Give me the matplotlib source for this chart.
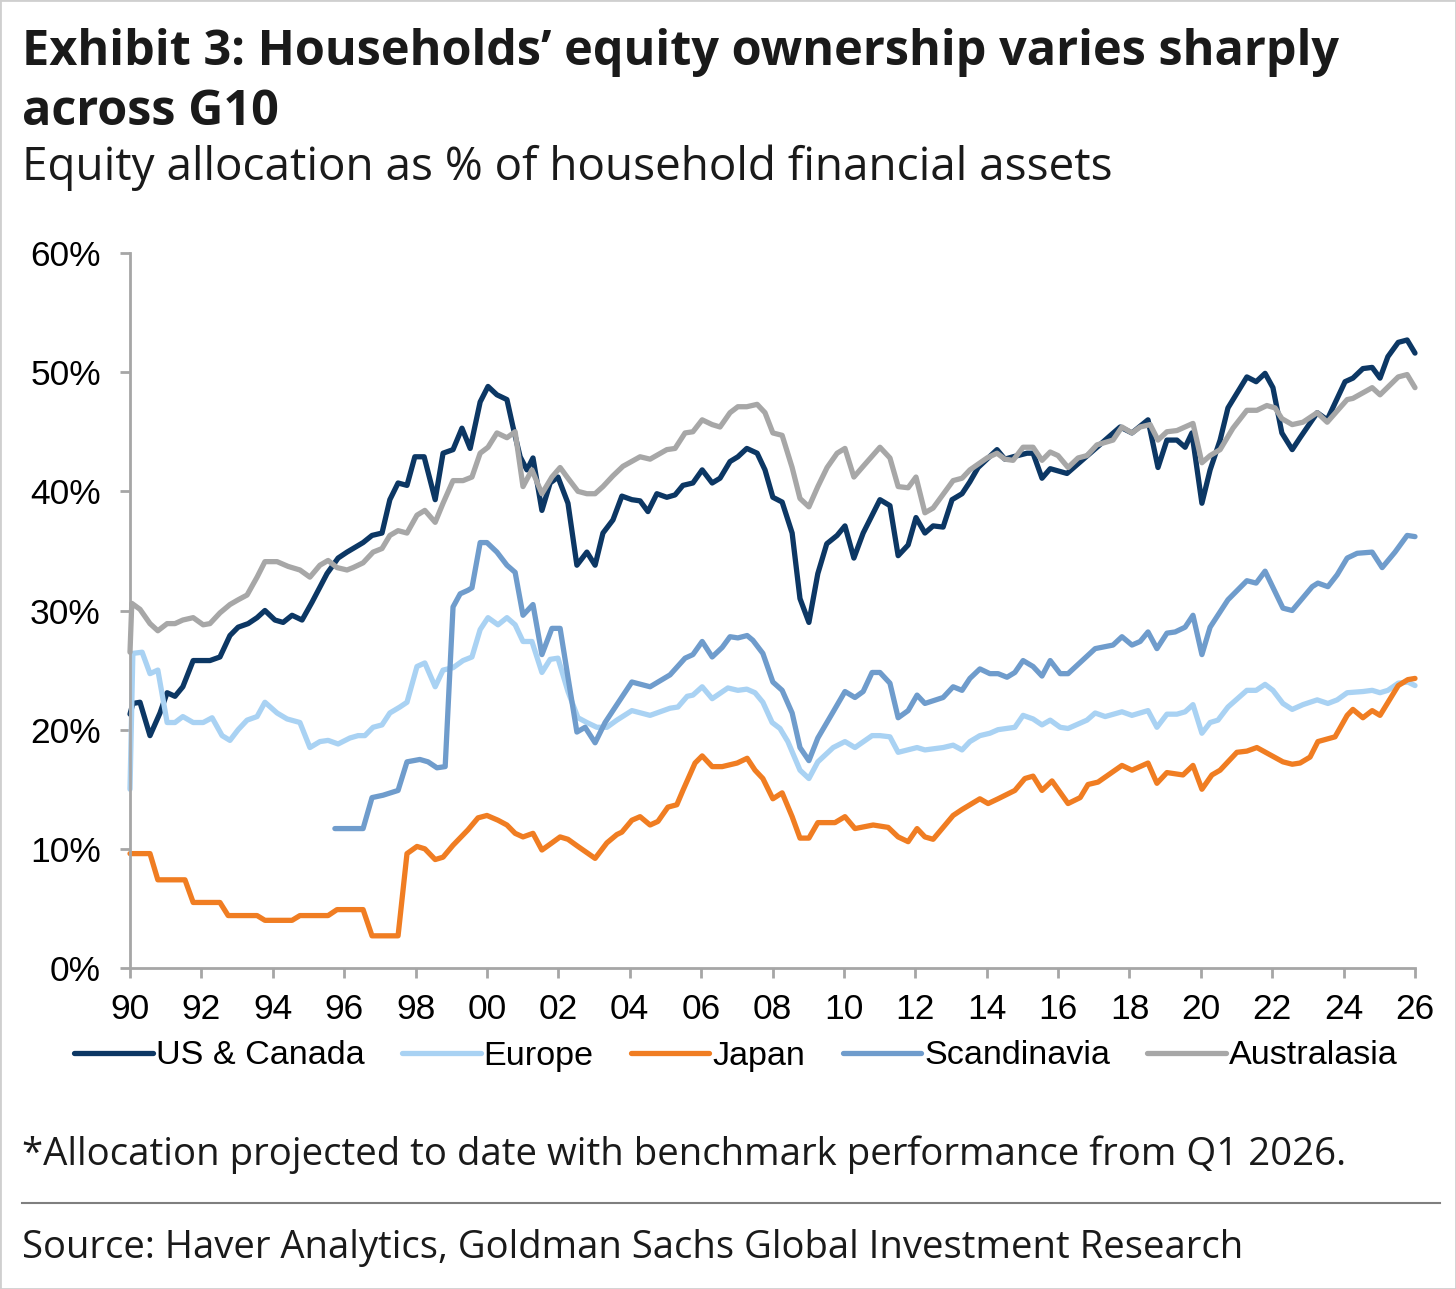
import matplotlib
matplotlib.use("Agg")
import matplotlib.pyplot as plt
from matplotlib.lines import Line2D
from matplotlib.patches import Rectangle

# data (decimal year, % of household financial assets)
us_years = [1990.00, 1990.08, 1990.28, 1990.56, 1990.84, 1991.04, 1991.26, 1991.48, 1991.77, 1992.24,
            1992.52, 1992.80, 1993.03, 1993.31, 1993.56, 1993.78, 1994.06, 1994.29, 1994.54, 1994.82,
            1995.10, 1995.52, 1995.83, 1996.08, 1996.36, 1996.53, 1996.78, 1997.06, 1997.28, 1997.51,
            1997.76, 1997.98, 1998.24, 1998.55, 1998.77, 1999.05, 1999.30, 1999.53, 1999.81, 2000.03,
            2000.28, 2000.56, 2000.73, 2000.93, 2001.12, 2001.29, 2001.54, 2001.77, 2001.99, 2002.27,
            2002.52, 2002.80, 2003.03, 2003.25, 2003.53, 2003.78, 2004.06, 2004.29, 2004.51, 2004.76,
            2005.04, 2005.27, 2005.49, 2005.77, 2006.03, 2006.31, 2006.53, 2006.81, 2007.03, 2007.28,
            2007.57, 2007.79, 2008.01, 2008.27, 2008.55, 2008.77, 2009.02, 2009.27, 2009.52, 2009.81,
            2010.03, 2010.28, 2010.54, 2011.01, 2011.29, 2011.52, 2011.80, 2012.02, 2012.27, 2012.50,
            2012.78, 2013.03, 2013.31, 2013.53, 2013.76, 2014.29, 2014.51, 2014.74, 2015.13, 2015.30,
            2015.55, 2015.78, 2016.25, 2016.90, 2017.74, 2018.07, 2018.52, 2018.80, 2019.05, 2019.33,
            2019.56, 2019.75, 2020.03, 2020.26, 2020.54, 2020.76, 2021.29, 2021.55, 2021.80, 2022.02,
            2022.27, 2022.56, 2022.78, 2023.26, 2023.54, 2024.04, 2024.26, 2024.54, 2024.80, 2025.02,
            2025.24, 2025.53, 2025.78, 2026.00]
us_vals = [21.3, 22.2, 22.3, 19.5, 21.4, 23.1, 22.8, 23.6, 25.8, 25.8,
           26.1, 27.9, 28.6, 28.9, 29.4, 30.0, 29.2, 29.0, 29.6, 29.2,
           30.7, 33.1, 34.4, 34.9, 35.4, 35.7, 36.3, 36.5, 39.3, 40.7,
           40.5, 42.9, 42.9, 39.3, 43.2, 43.5, 45.3, 43.6, 47.5, 48.8,
           48.1, 47.7, 45.4, 42.9, 41.8, 42.8, 38.4, 40.7, 41.2, 39.0,
           33.8, 34.9, 33.8, 36.5, 37.6, 39.6, 39.3, 39.2, 38.3, 39.8,
           39.5, 39.7, 40.5, 40.7, 41.8, 40.7, 41.1, 42.5, 42.9, 43.6,
           43.2, 41.8, 39.5, 39.1, 36.5, 31.0, 29.0, 33.1, 35.6, 36.3,
           37.1, 34.4, 36.5, 39.3, 38.8, 34.6, 35.5, 37.8, 36.5, 37.1,
           37.0, 39.3, 39.8, 40.8, 42.0, 43.5, 42.7, 42.9, 43.2, 43.2,
           41.1, 41.9, 41.5, 43.2, 45.4, 44.9, 46.0, 42.0, 44.3, 44.3,
           43.7, 44.9, 39.0, 41.8, 44.3, 47.0, 49.6, 49.2, 49.9, 48.7,
           44.9, 43.5, 44.5, 46.6, 46.0, 49.2, 49.5, 50.3, 50.4, 49.5,
           51.3, 52.5, 52.7, 51.6]

europe_years = [1990.00, 1990.08, 1990.34, 1990.56, 1990.78, 1991.04, 1991.26, 1991.48, 1991.77, 1992.05,
                1992.30, 1992.58, 1992.80, 1993.03, 1993.28, 1993.56, 1993.78, 1994.12, 1994.40, 1994.76,
                1995.04, 1995.32, 1995.55, 1995.83, 1996.16, 1996.39, 1996.58, 1996.81, 1997.06, 1997.28,
                1997.56, 1997.76, 1998.04, 1998.26, 1998.55, 1998.77, 1999.05, 1999.33, 1999.58, 1999.81,
                2000.03, 2000.31, 2000.56, 2000.79, 2001.01, 2001.26, 2001.54, 2001.77, 2001.99, 2002.27,
                2002.55, 2002.80, 2003.08, 2003.36, 2003.64, 2004.06, 2004.57, 2005.13, 2005.35, 2005.61,
                2005.77, 2006.03, 2006.31, 2006.75, 2007.03, 2007.28, 2007.51, 2007.73, 2007.99, 2008.21,
                2008.43, 2008.77, 2009.02, 2009.27, 2009.70, 2010.03, 2010.31, 2010.79, 2011.01, 2011.29,
                2011.52, 2012.05, 2012.27, 2012.78, 2013.06, 2013.31, 2013.53, 2013.81, 2014.09, 2014.32,
                2014.79, 2015.02, 2015.30, 2015.55, 2015.78, 2016.06, 2016.28, 2016.81, 2017.04, 2017.32,
                2017.79, 2018.07, 2018.52, 2018.77, 2019.05, 2019.33, 2019.56, 2019.78, 2020.03, 2020.26,
                2020.48, 2020.76, 2021.29, 2021.55, 2021.80, 2022.02, 2022.30, 2022.56, 2022.86, 2023.26,
                2023.56, 2023.82, 2024.10, 2024.54, 2024.80, 2025.02, 2025.24, 2025.53, 2025.80, 2026.00]
europe_vals = [15.0, 26.4, 26.5, 24.7, 25.0, 20.6, 20.6, 21.1, 20.6, 20.6,
               21.0, 19.5, 19.1, 20.0, 20.8, 21.1, 22.3, 21.4, 20.9, 20.6,
               18.5, 19.0, 19.1, 18.8, 19.3, 19.5, 19.5, 20.2, 20.4, 21.4,
               21.9, 22.3, 25.3, 25.6, 23.6, 25.0, 25.2, 25.8, 26.1, 28.4,
               29.4, 28.8, 29.4, 28.8, 27.4, 27.4, 24.8, 25.9, 26.0, 23.2,
               21.0, 20.6, 20.2, 20.2, 20.8, 21.6, 21.2, 21.8, 21.9, 22.8,
               22.9, 23.6, 22.6, 23.5, 23.3, 23.4, 23.1, 22.3, 20.6, 20.1,
               19.0, 16.6, 15.9, 17.3, 18.5, 19.0, 18.5, 19.5, 19.5, 19.4,
               18.1, 18.5, 18.3, 18.5, 18.7, 18.3, 19.0, 19.5, 19.7, 20.0,
               20.2, 21.2, 20.9, 20.4, 20.8, 20.2, 20.1, 20.8, 21.4, 21.1,
               21.5, 21.2, 21.6, 20.2, 21.3, 21.3, 21.5, 22.1, 19.7, 20.6,
               20.8, 21.9, 23.3, 23.3, 23.8, 23.3, 22.2, 21.7, 22.1, 22.5,
               22.2, 22.5, 23.1, 23.2, 23.3, 23.1, 23.3, 23.9, 24.0, 23.7]

japan_years = [1990.00, 1990.56, 1990.78, 1991.54, 1991.77, 1992.52, 1992.75, 1993.56, 1993.78, 1994.54,
               1994.76, 1995.55, 1995.80, 1996.53, 1996.78, 1997.51, 1997.76, 1998.04, 1998.26, 1998.55,
               1998.77, 1999.05, 1999.47, 1999.75, 2000.00, 2000.31, 2000.56, 2000.79, 2001.01, 2001.29,
               2001.54, 2001.82, 2002.05, 2002.27, 2002.55, 2003.03, 2003.36, 2003.64, 2003.78, 2004.06,
               2004.29, 2004.57, 2004.79, 2005.07, 2005.32, 2005.49, 2005.83, 2006.03, 2006.31, 2006.59,
               2007.01, 2007.29, 2007.51, 2007.73, 2008.01, 2008.27, 2008.55, 2008.77, 2009.02, 2009.27,
               2009.75, 2010.03, 2010.31, 2010.82, 2011.24, 2011.52, 2011.80, 2012.05, 2012.27, 2012.50,
               2013.06, 2013.31, 2013.81, 2014.04, 2014.32, 2014.79, 2015.07, 2015.30, 2015.55, 2015.83,
               2016.28, 2016.62, 2016.84, 2017.12, 2017.79, 2018.07, 2018.52, 2018.77, 2019.05, 2019.50,
               2019.78, 2020.03, 2020.31, 2020.54, 2021.01, 2021.29, 2021.57, 2022.30, 2022.56, 2022.78,
               2023.06, 2023.28, 2023.76, 2024.10, 2024.26, 2024.54, 2024.80, 2025.02, 2025.53, 2025.80,
               2026.00]
japan_vals = [9.6, 9.6, 7.4, 7.4, 5.5, 5.5, 4.4, 4.4, 4.0, 4.0,
              4.4, 4.4, 4.9, 4.9, 2.7, 2.7, 9.6, 10.2, 10.0, 9.1,
              9.3, 10.3, 11.6, 12.6, 12.8, 12.4, 12.0, 11.3, 11.0, 11.3,
              9.9, 10.5, 11.0, 10.8, 10.2, 9.2, 10.5, 11.2, 11.4, 12.4,
              12.7, 12.0, 12.3, 13.5, 13.7, 14.9, 17.2, 17.8, 16.9, 16.9,
              17.2, 17.6, 16.6, 15.9, 14.2, 14.7, 12.7, 10.9, 10.9, 12.2,
              12.2, 12.7, 11.7, 12.0, 11.8, 11.0, 10.6, 11.7, 11.0, 10.8,
              12.8, 13.3, 14.2, 13.8, 14.2, 14.9, 15.9, 16.1, 14.9, 15.7,
              13.8, 14.3, 15.4, 15.6, 17.0, 16.6, 17.2, 15.5, 16.4, 16.2,
              17.0, 15.0, 16.2, 16.6, 18.1, 18.2, 18.5, 17.3, 17.1, 17.2,
              17.7, 19.0, 19.4, 21.2, 21.7, 21.0, 21.6, 21.2, 23.7, 24.2,
              24.3]

scandi_years = [1995.74, 1996.53, 1996.78, 1997.09, 1997.51, 1997.76, 1998.12, 1998.35, 1998.60, 1998.83,
                1999.05, 1999.25, 1999.47, 1999.58, 1999.81, 2000.00, 2000.28, 2000.56, 2000.79, 2001.01,
                2001.29, 2001.54, 2001.82, 2002.05, 2002.27, 2002.52, 2002.75, 2003.03, 2003.31, 2003.53,
                2004.06, 2004.57, 2005.13, 2005.55, 2005.77, 2006.03, 2006.31, 2006.59, 2006.81, 2007.03,
                2007.29, 2007.45, 2007.73, 2008.01, 2008.27, 2008.55, 2008.77, 2009.02, 2009.27, 2009.70,
                2010.03, 2010.31, 2010.54, 2010.79, 2011.01, 2011.29, 2011.52, 2011.80, 2012.05, 2012.27,
                2012.78, 2013.06, 2013.31, 2013.53, 2013.81, 2014.09, 2014.32, 2014.57, 2014.79, 2015.02,
                2015.30, 2015.55, 2015.78, 2016.06, 2016.28, 2017.04, 2017.54, 2017.79, 2018.07, 2018.30,
                2018.52, 2018.77, 2019.05, 2019.28, 2019.56, 2019.78, 2020.03, 2020.26, 2020.76, 2021.29,
                2021.55, 2021.80, 2022.30, 2022.56, 2023.12, 2023.28, 2023.56, 2023.82, 2024.10, 2024.38,
                2024.80, 2025.08, 2025.44, 2025.78, 2026.00]
scandi_vals = [11.7, 11.7, 14.3, 14.5, 14.9, 17.3, 17.5, 17.3, 16.8, 16.9,
               30.3, 31.4, 31.7, 31.9, 35.7, 35.7, 34.9, 33.8, 33.2, 29.6,
               30.5, 26.3, 28.5, 28.5, 24.4, 19.8, 20.2, 18.9, 20.6, 21.6,
               24.0, 23.6, 24.6, 26.0, 26.3, 27.4, 26.1, 26.9, 27.8, 27.7,
               27.9, 27.5, 26.4, 24.0, 23.3, 21.4, 18.5, 17.4, 19.3, 21.5,
               23.2, 22.7, 23.2, 24.8, 24.8, 23.9, 21.0, 21.6, 22.9, 22.2,
               22.7, 23.6, 23.3, 24.3, 25.1, 24.7, 24.7, 24.4, 24.8, 25.8,
               25.3, 24.5, 25.8, 24.7, 24.7, 26.8, 27.1, 27.8, 27.1, 27.4,
               28.2, 26.8, 28.1, 28.2, 28.6, 29.6, 26.3, 28.6, 30.9, 32.5,
               32.3, 33.3, 30.2, 30.0, 32.0, 32.3, 32.0, 33.0, 34.4, 34.8,
               34.9, 33.6, 34.9, 36.3, 36.2]

aus_years = [1990.00, 1990.05, 1990.28, 1990.56, 1990.78, 1991.04, 1991.26, 1991.48, 1991.77, 1992.05,
             1992.24, 1992.52, 1992.80, 1993.03, 1993.28, 1993.56, 1993.78, 1994.12, 1994.43, 1994.76,
             1995.04, 1995.32, 1995.55, 1995.80, 1996.08, 1996.25, 1996.53, 1996.81, 1997.06, 1997.28,
             1997.51, 1997.76, 1998.04, 1998.26, 1998.55, 1998.77, 1999.05, 1999.33, 1999.58, 1999.81,
             2000.03, 2000.28, 2000.56, 2000.79, 2001.01, 2001.26, 2001.54, 2001.82, 2002.05, 2002.27,
             2002.55, 2002.80, 2003.03, 2003.25, 2003.53, 2003.81, 2004.29, 2004.57, 2005.04, 2005.27,
             2005.55, 2005.77, 2006.03, 2006.31, 2006.53, 2006.81, 2007.03, 2007.28, 2007.57, 2007.79,
             2008.01, 2008.27, 2008.55, 2008.77, 2009.02, 2009.27, 2009.53, 2009.81, 2010.03, 2010.28,
             2010.54, 2011.01, 2011.29, 2011.52, 2011.80, 2012.02, 2012.27, 2012.50, 2013.06, 2013.31,
             2013.53, 2014.01, 2014.29, 2014.51, 2014.74, 2015.02, 2015.30, 2015.55, 2015.78, 2016.00,
             2016.28, 2016.56, 2016.81, 2017.09, 2017.54, 2017.79, 2018.07, 2018.30, 2018.58, 2018.80,
             2019.05, 2019.33, 2019.78, 2020.03, 2020.26, 2020.54, 2020.90, 2021.29, 2021.57, 2021.85,
             2022.08, 2022.27, 2022.56, 2022.86, 2023.26, 2023.54, 2024.10, 2024.26, 2024.80, 2025.02,
             2025.53, 2025.78, 2026.00]
aus_vals = [26.5, 30.6, 30.1, 28.9, 28.3, 28.9, 28.9, 29.2, 29.4, 28.8,
            28.9, 29.8, 30.5, 30.9, 31.3, 32.8, 34.1, 34.1, 33.7, 33.4,
            32.8, 33.8, 34.2, 33.6, 33.4, 33.6, 34.0, 34.9, 35.2, 36.3,
            36.7, 36.5, 38.0, 38.4, 37.4, 39.0, 40.9, 40.9, 41.2, 43.2,
            43.7, 44.9, 44.5, 45.0, 40.4, 41.8, 39.8, 41.2, 42.0, 41.1,
            40.0, 39.8, 39.8, 40.4, 41.3, 42.1, 42.9, 42.7, 43.5, 43.6,
            44.9, 45.0, 46.0, 45.6, 45.4, 46.6, 47.1, 47.1, 47.3, 46.6,
            44.9, 44.7, 42.0, 39.4, 38.7, 40.4, 42.0, 43.2, 43.6, 41.2,
            42.1, 43.7, 42.8, 40.4, 40.3, 41.2, 38.2, 38.6, 40.9, 41.1,
            41.8, 42.8, 43.2, 42.7, 42.6, 43.7, 43.7, 42.6, 43.3, 43.0,
            42.0, 42.8, 43.0, 43.9, 44.3, 45.4, 44.9, 45.4, 45.6, 44.3,
            45.0, 45.1, 45.7, 42.4, 43.0, 43.5, 45.3, 46.8, 46.8, 47.2,
            47.0, 46.1, 45.6, 45.8, 46.6, 45.8, 47.7, 47.8, 48.7, 48.1,
            49.6, 49.8, 48.7]

series_names = ["US & Canada", "Europe", "Japan", "Scandinavia", "Australasia"]
series_colors = ["#0c3764", "#a9d2f3", "#f07d22", "#6f9ccc", "#a7a7a7"]

y_ticks = [0, 10, 20, 30, 40, 50, 60]
x_ticks = list(range(1990, 2027, 2))
x_labels = [f"{y % 100:02d}" for y in x_ticks]

title_lines = ["Exhibit 3: Households\u2019 equity ownership varies sharply", "across G10"]
subtitle = "Equity allocation as % of household financial assets"
footnote = "*Allocation projected to date with benchmark performance from Q1 2026."
source = "Source: Haver Analytics, Goldman Sachs Global Investment Research"

W, H = 1456, 1289
fig = plt.figure(figsize=(W / 100, H / 100), dpi=100)
fig.patch.set_facecolor("white")

ax = fig.add_axes([130 / W, 1 - 968 / H, (1415 - 130) / W, (968 - 253) / H])

all_series = [(us_years, us_vals), (europe_years, europe_vals), (japan_years, japan_vals),
              (scandi_years, scandi_vals), (aus_years, aus_vals)]
handles = []
for (xs, ys), name, col in zip(all_series, series_names, series_colors):
    h, = ax.plot(xs, ys, color=col, lw=3.8, label=name, solid_joinstyle="round",
                 solid_capstyle="round", clip_on=False)
    handles.append(h)

ax.set_xlim(1990, 2026)
ax.set_ylim(0, 60)
ax.set_xticks(x_ticks)
ax.set_xticklabels(x_labels)
ax.set_yticks(y_ticks)
ax.set_yticklabels([f"{v}%" for v in y_ticks])

axis_gray = "#a6a6a6"
for side in ["top", "right"]:
    ax.spines[side].set_visible(False)
for side in ["left", "bottom"]:
    ax.spines[side].set_color(axis_gray)
    ax.spines[side].set_linewidth(2)
ax.tick_params(axis="both", colors=axis_gray, width=2, length=7, direction="out",
               labelcolor="black", labelsize=25.5)
ax.tick_params(axis="y", pad=14)
ax.tick_params(axis="x", pad=11)
for lab in ax.get_xticklabels() + ax.get_yticklabels():
    lab.set_family(["Liberation Sans", "DejaVu Sans"])

leg = fig.legend(handles=handles, labels=series_names, loc="center", ncol=5,
                 bbox_to_anchor=(736 / W, 1 - 1056 / H), frameon=False,
                 handlelength=2.3, handletextpad=0.08, columnspacing=1.1,
                 prop={"family": ["Liberation Sans", "DejaVu Sans"], "size": 24.6})

head_font = ["Open Sans", "DejaVu Sans"]
fig.text(22 / W, 1 - 65 / H, title_lines[0], fontsize=35, fontweight="bold", family=head_font,
         va="baseline", ha="left", color="#1a1a1a")
fig.text(22 / W, 1 - 125 / H, title_lines[1], fontsize=35, fontweight="bold", family=head_font,
         va="baseline", ha="left", color="#1a1a1a")
fig.text(22 / W, 1 - 180 / H, subtitle, fontsize=33, family=head_font,
         va="baseline", ha="left", color="#1a1a1a")
fig.text(22 / W, 1 - 1165 / H, footnote, fontsize=27.6, family=head_font,
         va="baseline", ha="left", color="#1a1a1a")
fig.text(22 / W, 1 - 1258 / H, source, fontsize=27.5, family=head_font,
         va="baseline", ha="left", color="#1a1a1a")

fig.add_artist(Line2D([22 / W, 1440 / W], [1 - 1203 / H, 1 - 1203 / H],
                      color="#7f7f7f", lw=1.5, transform=fig.transFigure))
fig.add_artist(Rectangle((0, 0), 1, 1, transform=fig.transFigure, fill=False,
                         edgecolor="#cfcfcf", lw=2))

fig.savefig("out.png", dpi=100, facecolor="white")
